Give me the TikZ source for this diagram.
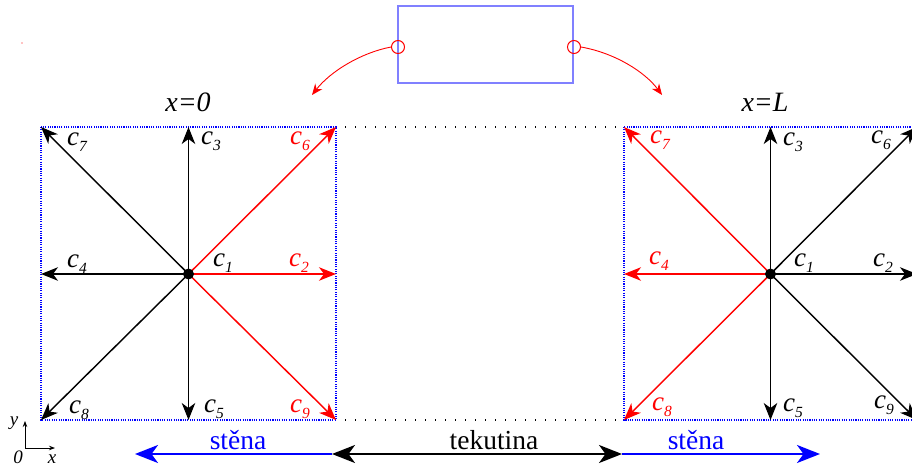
\documentclass[tikz,border=0pt]{standalone}
\usepackage{fontspec}
\setmainfont{Liberation Serif}
\usetikzlibrary{arrows.meta}
\newcommand{\clab}[1]{{\itshape c\raisebox{-6pt}{\fontsize{15.5pt}{15.5pt}\selectfont #1}}}
\tikzset{
  vec/.style={line width=1.45pt,-{Stealth[length=17pt,width=13.5pt,inset=5pt]}},
  blk/.style={vec,black},
  rd/.style={vec,red},
  lab/.style={anchor=base west,inner sep=0pt,font=\fontsize{27pt}{27pt}\selectfont},
  redlab/.style={lab,text=red},
  wall/.style={blue,line width=1.1pt,dash pattern=on 1.1pt off 1.2pt},
  gap/.style={black,line width=1.4pt,dash pattern=on 1.4pt off 8.6pt},
  big/.style={line width=2.2pt,-{Stealth[length=23pt,width=18pt,inset=6.5pt]}},
  word/.style={font=\fontsize{27.5pt}{27.5pt}\selectfont,inner sep=0pt},
  dotc/.style={circle,fill=black,inner sep=0pt,minimum size=11pt},
  port/.style={circle,draw=red,line width=1pt,inner sep=0pt,minimum width=11pt,minimum height=13pt},
  curv/.style={red,line width=0.9pt,-{Stealth[length=11pt,width=9pt,inset=3.5pt]}},
  axlab/.style={font=\fontsize{19pt}{19pt}\selectfont\itshape,inner sep=0pt}
}
\begin{document}
\begin{tikzpicture}[x=1pt,y=-1pt]
\useasboundingbox (0,0) rectangle (912,468);
% tiny red mark
\fill[red] (22,43) circle (0.6);
% top box
\node[draw={rgb,255:red,128;green,128;blue,255},line width=1.4pt,minimum width=175pt,minimum height=77pt,inner sep=0pt] (box) at (485.5,44.5) {};
\node[port] (pl) at (398,47) {};
\node[port] (pr) at (574,47) {};
\coordinate (tl) at (312,95);
\coordinate (tr) at (662,95);
\draw[curv] (pl.west) .. controls (360,53) and (330,72) .. (tl);
\draw[curv] (pr.east) .. controls (615,53) and (645,72) .. (tr);
\node[word,font=\fontsize{28pt}{28pt}\selectfont\itshape] (x0) at (188,102) {x=0};
\node[word,font=\fontsize{28pt}{28pt}\selectfont\itshape] (xL) at (765,102) {x=L};
% left square
\coordinate (A) at (188.5,274);
\coordinate (A7) at (41,127);  \coordinate (A3) at (188.5,127); \coordinate (A6) at (336,127);
\coordinate (A4) at (41,274);  \coordinate (A2) at (336,274);
\coordinate (A8) at (41,420);  \coordinate (A5) at (188.5,420); \coordinate (A9) at (336,420);
\draw[wall] (A7) rectangle (A9);
% right square
\coordinate (B) at (770.5,274);
\coordinate (B7) at (624,127);  \coordinate (B3) at (770.5,127); \coordinate (B6) at (917,127);
\coordinate (B4) at (624,274);  \coordinate (B2) at (917,274);
\coordinate (B8) at (624,420);  \coordinate (B5) at (770.5,420); \coordinate (B9) at (917,420);
\draw[wall] (B7) rectangle (B9);
% dotted fluid gaps
\draw[gap] (A6) ++(9,0) -- (B7);
\draw[gap] (A9) ++(9,0) -- (B8);
% left arrows
\draw[blk] (A) -- (A7);
\draw[blk] (A) -- (A3);
\draw[blk] (A) -- (A4);
\draw[blk] (A) -- (A8);
\draw[blk] (A) -- (A5);
\draw[rd] (A) -- (A6);
\draw[rd] (A) -- (A2);
\draw[rd] (A) -- (A9);
\node[dotc] (Ad) at (A) {};
% right arrows
\draw[rd] (B) -- (B7);
\draw[rd] (B) -- (B4);
\draw[rd] (B) -- (B8);
\draw[blk] (B) -- (B3);
\draw[blk] (B) -- (B5);
\draw[blk] (B) -- (B6);
\draw[blk] (B) -- (B2);
\draw[blk] (B) -- (B9);
\node[dotc] (Bd) at (B) {};
% left labels
\node[lab] (l7) at (67,145) {\clab{7}};
\node[lab] (l3) at (201,144) {\clab{3}};
\node[redlab] (l6) at (290,144) {\clab{6}};
\node[lab] (l4) at (67,267) {\clab{4}};
\node[lab] (l1) at (213,266) {\clab{1}};
\node[redlab] (l2) at (289,266) {\clab{2}};
\node[lab] (l8) at (69,413) {\clab{8}};
\node[lab] (l5) at (204,412) {\clab{5}};
\node[redlab] (l9) at (290,412) {\clab{9}};
% right labels
\node[redlab] (r7) at (650,143) {\clab{7}};
\node[lab] (r3) at (783,145) {\clab{3}};
\node[lab] (r6) at (871,143) {\clab{6}};
\node[redlab] (r4) at (649,264) {\clab{4}};
\node[lab] (r1) at (794,266) {\clab{1}};
\node[lab] (r2) at (873,266) {\clab{2}};
\node[redlab] (r8) at (652,410) {\clab{8}};
\node[lab] (r5) at (783,411) {\clab{5}};
\node[lab] (r9) at (874,408) {\clab{9}};
% axes
\coordinate (O) at (25,448);
\coordinate (Oy) at (25,421);
\coordinate (Ox) at (55,448);
\draw[line width=0.8pt,-{Stealth[length=6pt,width=4.5pt]}] (O) -- (Oy);
\draw[line width=0.8pt,-{Stealth[length=6pt,width=4.5pt]}] (O) -- (Ox);
\node[axlab] (ly) at (14,423) {y};
\node[axlab] (l0) at (18,457) {0};
\node[axlab] (lx) at (52,459) {x};
% bottom arrows
\coordinate (W1) at (135,454);
\coordinate (W2) at (332,454);
\coordinate (W3) at (622,454);
\coordinate (W4) at (820,454);
\draw[big,blue] (W2) -- (W1);
\draw[big,blue] (W3) -- (W4);
\draw[line width=2.2pt,{Stealth[length=23pt,width=18pt,inset=6.5pt]}-{Stealth[length=23pt,width=18pt,inset=6.5pt]}] (W2) -- (W3);
\node[word,text=blue] (s1) at (238,440) {stěna};
\node[word] (tk) at (494,440) {tekutina};
\node[word,text=blue] (s2) at (696,440) {stěna};
\end{tikzpicture}
\end{document}
